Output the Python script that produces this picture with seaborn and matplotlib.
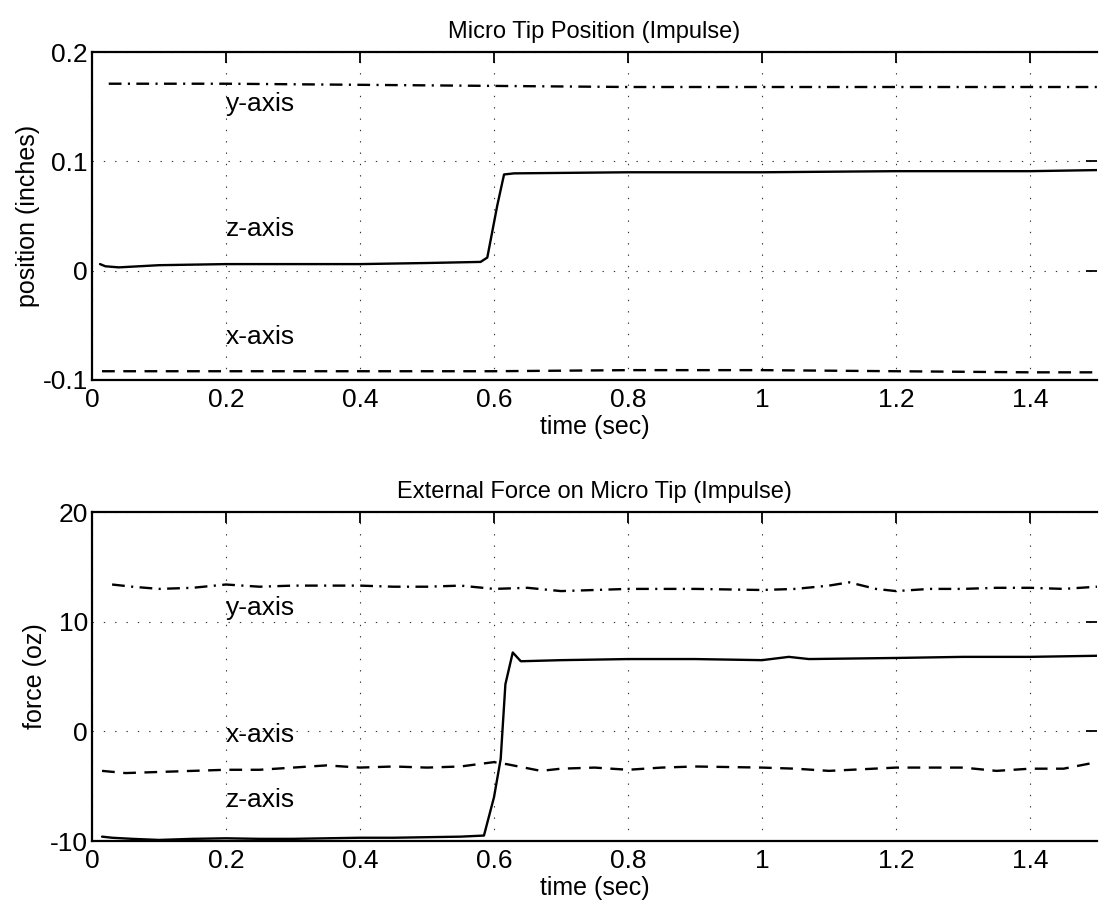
import matplotlib
matplotlib.use("Agg")
import matplotlib.pyplot as plt
import seaborn as sns

sns.set_theme(style="white")
plt.rcParams["font.family"] = ["Liberation Sans", "DejaVu Sans"]
plt.rcParams.update({
    "text.color": "black",
    "axes.labelcolor": "black",
    "xtick.color": "black",
    "ytick.color": "black",
})

# ---------------------------------------------------------------------------
# Data
# ---------------------------------------------------------------------------

# Micro tip position (inches)
t_pos_y = [0.025, 0.2, 0.4, 0.6, 0.8, 1.0, 1.2, 1.4, 1.5]
pos_y   = [0.171, 0.171, 0.170, 0.169, 0.168, 0.168, 0.168, 0.168, 0.168]

t_pos_x = [0.015, 0.2, 0.4, 0.6, 0.8, 1.0, 1.2, 1.4, 1.5]
pos_x   = [-0.092, -0.092, -0.092, -0.092, -0.091, -0.091, -0.092, -0.093, -0.093]

t_pos_z = [0.012, 0.02, 0.04, 0.07, 0.1, 0.2, 0.3, 0.4, 0.5, 0.58, 0.59,
           0.605, 0.615, 0.63, 0.8, 1.0, 1.2, 1.4, 1.5]
pos_z   = [0.006, 0.004, 0.003, 0.004, 0.005, 0.006, 0.006, 0.006, 0.007, 0.008, 0.012,
           0.060, 0.088, 0.089, 0.090, 0.090, 0.091, 0.091, 0.092]

# External force on micro tip (oz)
t_frc_y = [0.03, 0.06, 0.1, 0.15, 0.2, 0.25, 0.3, 0.35, 0.4, 0.45, 0.5, 0.55, 0.6,
           0.65, 0.7, 0.75, 0.8, 0.9, 1.0, 1.05, 1.1, 1.13, 1.17, 1.2, 1.25, 1.3,
           1.35, 1.4, 1.45, 1.5]
frc_y   = [13.4, 13.2, 13.0, 13.1, 13.4, 13.2, 13.3, 13.3, 13.3, 13.2, 13.2, 13.3, 13.0,
           13.1, 12.8, 12.9, 13.0, 13.0, 12.9, 13.0, 13.3, 13.6, 13.0, 12.8, 13.0, 13.0,
           13.1, 13.1, 13.0, 13.2]

t_frc_x = [0.015, 0.05, 0.1, 0.15, 0.2, 0.25, 0.3, 0.35, 0.4, 0.45, 0.5, 0.55, 0.6,
           0.62, 0.67, 0.7, 0.75, 0.8, 0.85, 0.9, 1.0, 1.05, 1.1, 1.2, 1.25, 1.3,
           1.35, 1.4, 1.45, 1.5]
frc_x   = [-3.6, -3.8, -3.7, -3.6, -3.5, -3.5, -3.3, -3.1, -3.3, -3.2, -3.3, -3.2, -2.8,
           -3.0, -3.6, -3.4, -3.3, -3.5, -3.3, -3.2, -3.3, -3.4, -3.6, -3.3, -3.3, -3.3,
           -3.6, -3.4, -3.4, -2.8]

t_frc_z = [0.015, 0.03, 0.06, 0.1, 0.15, 0.2, 0.25, 0.3, 0.35, 0.4, 0.45, 0.5, 0.55,
           0.585, 0.6, 0.61, 0.617, 0.628, 0.64, 0.7, 0.8, 0.9, 1.0, 1.04, 1.07, 1.2,
           1.3, 1.4, 1.5]
frc_z   = [-9.6, -9.7, -9.8, -9.9, -9.8, -9.75, -9.8, -9.8, -9.75, -9.7, -9.7, -9.65, -9.6,
           -9.5, -6.0, -2.5, 4.3, 7.2, 6.4, 6.5, 6.6, 6.6, 6.5, 6.8, 6.6, 6.7,
           6.8, 6.8, 6.9]

x_ticks = [0, 0.2, 0.4, 0.6, 0.8, 1.0, 1.2, 1.4]
x_labels = ["0", "0.2", "0.4", "0.6", "0.8", "1", "1.2", "1.4"]
pos_ticks = [-0.1, 0, 0.1, 0.2]
pos_labels = ["-0.1", "0", "0.1", "0.2"]
frc_ticks = [-10, 0, 10, 20]
frc_labels = ["-10", "0", "10", "20"]

# ---------------------------------------------------------------------------
# Style
# ---------------------------------------------------------------------------

SOLID = "-"
DASHED = (0, (5.4, 3.6))
DASHDOT = (0, (5.4, 2.7, 0.9, 2.7))
GRID = (0, (1.2, 9))


def style_axes(ax, yticks, ylabels, ylim, ylabel, title):
    ax.set_xlim(0, 1.5)
    ax.set_ylim(*ylim)
    ax.set_xticks(x_ticks)
    ax.set_xticklabels(x_labels)
    ax.set_yticks(yticks)
    ax.set_yticklabels(ylabels)
    ax.grid(True, color="0.2", linewidth=0.8, linestyle=GRID)
    ax.tick_params(direction="in", length=8, width=1.3, top=True, right=True,
                   labelsize=19, pad=3, colors="black")
    ax.tick_params(axis="x", pad=6)
    for side in ("left", "top", "bottom"):
        ax.spines[side].set_color("black")
        ax.spines[side].set_linewidth(1.6)
    ax.spines["right"].set_visible(False)
    ax.set_xlabel("time (sec)", fontsize=18, labelpad=2)
    ax.set_ylabel(ylabel, fontsize=18, labelpad=2)
    ax.set_title(title, fontsize=17, pad=10, color="black")


def draw(ax, t, v, ls):
    sns.lineplot(x=t, y=v, ax=ax, color="black", linewidth=1.7,
                 linestyle=ls, sort=False, estimator=None)


fig = plt.figure(figsize=(10.99, 9.11), dpi=100)
ax_pos = fig.add_axes([0.0837, 0.5829, 0.9145, 0.360])
ax_frc = fig.add_axes([0.0837, 0.0768, 0.9145, 0.361])

# top panel
draw(ax_pos, t_pos_y, pos_y, DASHDOT)
draw(ax_pos, t_pos_z, pos_z, SOLID)
draw(ax_pos, t_pos_x, pos_x, DASHED)
style_axes(ax_pos, pos_ticks, pos_labels, (-0.1, 0.2),
           "position (inches)", "Micro Tip Position (Impulse)")
ax_pos.text(0.2, 0.152, "y-axis", fontsize=19, ha="left", va="center")
ax_pos.text(0.2, 0.038, "z-axis", fontsize=19, ha="left", va="center")
ax_pos.text(0.2, -0.061, "x-axis", fontsize=19, ha="left", va="center")

# bottom panel
draw(ax_frc, t_frc_y, frc_y, DASHDOT)
draw(ax_frc, t_frc_z, frc_z, SOLID)
draw(ax_frc, t_frc_x, frc_x, DASHED)
style_axes(ax_frc, frc_ticks, frc_labels, (-10, 20),
           "force (oz)", "External Force on Micro Tip (Impulse)")
ax_frc.text(0.2, 11.3, "y-axis", fontsize=19, ha="left", va="center")
ax_frc.text(0.2, -0.3, "x-axis", fontsize=19, ha="left", va="center")
ax_frc.text(0.2, -6.3, "z-axis", fontsize=19, ha="left", va="center")

fig.savefig("out.png", dpi=100, facecolor="white")
